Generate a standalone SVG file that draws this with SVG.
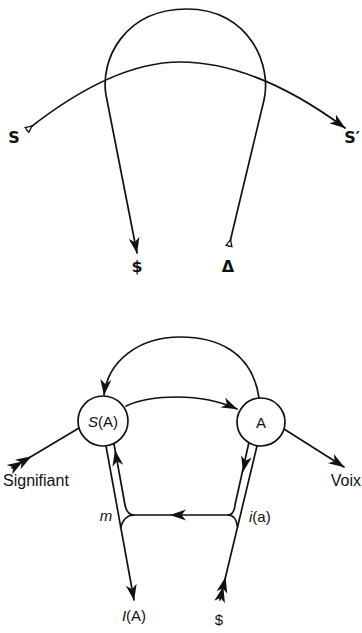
<svg xmlns="http://www.w3.org/2000/svg" xmlns:xlink="http://www.w3.org/1999/xlink" width="362" height="633" viewBox="0 0 362 633">
<style>
.ln{fill:none;stroke:#111;stroke-width:1.7;stroke-linecap:round}
.node{fill:#fff;stroke:#111;stroke-width:1.7}
.lt{font-family:"Liberation Sans",Arial,sans-serif;font-size:15px;fill:#111}
.lt16{font-family:"Liberation Sans",Arial,sans-serif;font-size:16px;fill:#111}
.big{font-family:"DejaVu Sans","Liberation Sans",sans-serif;font-weight:bold;font-size:16px;fill:#111}
.hd{fill:#111}
</style>
<defs>
<marker id="ah" viewBox="0 0 16 11" refX="15.5" refY="5.5" markerWidth="16" markerHeight="11" markerUnits="userSpaceOnUse" orient="auto"><path d="M0,0 L16,5.5 L0,11 L4.5,5.5 z" fill="#111"/></marker>
<marker id="ot" viewBox="-1 -4 9 8" refX="0" refY="0" markerWidth="9" markerHeight="8" markerUnits="userSpaceOnUse" orient="auto"><path d="M0,-3 L6.5,0 L0,3 z" fill="#fff" stroke="#111" stroke-width="1.3"/></marker>
<path id="head" d="M0,0 L-16,-5.5 L-11.5,0 L-16,5.5 z"/>
</defs>

<g id="connectors">
<path class="ln" d="M27,130 C90,80 140,62 180,62 C225,62 280,80 345,128" marker-start="url(#ot)" marker-end="url(#ah)"/>
<path class="ln" d="M229,246 L264,100 C272,66 250,9 187,9 C124,9 100,60 106,95 L137,253" marker-start="url(#ot)" marker-end="url(#ah)"/>

<path class="ln" d="M259,398 C252,350 215,337 180,337 C140,337 108,360 104,395" marker-end="url(#ah)"/>
<path class="ln" d="M126,406 C150,395 200,392 237,409" marker-end="url(#ah)"/>
<path class="ln" d="M12,468 L79,428"/>
<path class="ln" d="M284,429 L344,467" marker-end="url(#ah)"/>
<path class="ln" d="M106,446 L134,600" marker-end="url(#ah)"/>
<path class="ln" d="M114,444 L125,505 Q127,515 134,515 L228,515 Q234,515 235,505 L249,442"/>
<path class="ln" d="M134,515 Q124,515 120.5,528"/>
<path class="ln" d="M228,515 Q236,515 237.5,527"/>
<path class="ln" d="M257,446 L220,600"/>
<use href="#head" class="hd" transform="translate(170,515) rotate(180)"/>
<use href="#head" class="hd" transform="translate(115,450) rotate(-100.2)"/>
<use href="#head" class="hd" transform="translate(243,472) rotate(102.5)"/>
<use href="#head" class="hd" transform="translate(31.5,456.2) rotate(-31.2)"/>
<use href="#head" class="hd" transform="translate(23.1,461.3) rotate(-31.2)"/>
<use href="#head" class="hd" transform="translate(225.6,577) rotate(-76.5)"/>
<use href="#head" class="hd" transform="translate(223.3,586.5) rotate(-76.5)"/>
</g>

<g id="label-S"><text class="big" x="14" y="143" text-anchor="middle">S</text></g>
<g id="label-S-prime"><text class="big" x="352" y="143" text-anchor="middle">S′</text></g>
<g id="label-barred-S-top"><text class="big" x="137" y="272" text-anchor="middle">$</text></g>
<g id="label-delta"><text class="big" x="228" y="272" text-anchor="middle">Δ</text></g>

<g id="node-SA">
<circle class="node" cx="103" cy="421" r="25"/>
<text class="lt" x="103" y="426.5" text-anchor="middle"><tspan font-style="italic">S</tspan>(A)</text>
</g>
<g id="node-A">
<circle class="node" cx="261" cy="422" r="24"/>
<text class="lt" x="261" y="427.5" text-anchor="middle">A</text>
</g>
<g id="label-signifiant"><text class="lt16" x="3" y="486">Signifiant</text></g>
<g id="label-voix"><text class="lt16" x="361" y="486" text-anchor="end">Voix</text></g>
<g id="label-m"><text class="lt" x="106" y="521" text-anchor="middle" font-style="italic">m</text></g>
<g id="label-ia"><text class="lt" x="249" y="522"><tspan font-style="italic">i</tspan>(a)</text></g>
<g id="label-IA"><text class="lt" x="134" y="621" text-anchor="middle"><tspan font-style="italic">I</tspan>(A)</text></g>
<g id="label-barred-S"><text class="lt" x="219" y="625" text-anchor="middle">$</text></g>
</svg>
